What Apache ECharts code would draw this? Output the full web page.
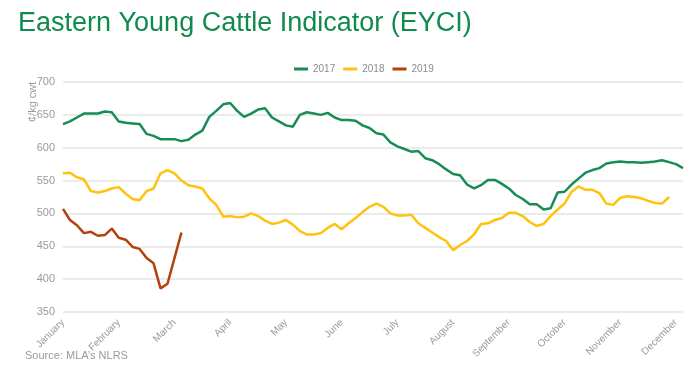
<!DOCTYPE html>
<html><head><meta charset="utf-8">
<script src="https://cdn.jsdelivr.net/npm/echarts@6/dist/echarts.min.js"></script>
<style>html,body{margin:0;padding:0;background:#fff}#c{width:700px;height:378px}</style>
</head><body><div id="c"></div>
<script>
const monthLabels = ['January','February','March','April','May','June','July','August','September','October','November','December'];
const pointsPerLabel = 8;
const yTicks = [350,400,450,500,550,600,650,700];
const seriesNames = ['2017','2018','2019'];
const values2017 = [636,640,646,652,652,652,655,654,640,638,637,636,621,618,613,613,613,610,612,620,626,647,656,666,668,656,647,652,658,660,646,640,634,632,650,654,652,650,653,646,642,642,641,634,630,622,620,608,602,598,594,595,584,581,575,567,560,558,544,538,543,551,551,545,538,528,522,514,514,506,508,532,533,544,553,562,566,569,576,578,579,578,578,577,578,579,581,578,575,569];
const values2018 = [561,562,555,552,534,532,534,538,540,530,522,520,534,538,561,566,561,550,543,541,538,523,513,495,496,494,495,500,496,489,484,486,490,483,473,468,468,470,478,484,476,485,493,502,510,515,510,500,497,497,498,485,478,471,464,458,444,452,458,468,484,485,490,493,501,501,496,487,481,484,496,506,515,533,541,536,536,531,515,513,524,526,525,523,519,516,515,525];
const values2019 = [507,490,482,470,472,466,467,477,463,460,449,446,432,424,386,393,432,471];

const categories = values2017.map((v,i)=>String(i));
const colors = ['#178d55','#ffc20e','#b3410e'];

const chart = echarts.init(document.getElementById('c'), null, {renderer:'canvas'});
chart.setOption({
  animation:false,
  title:{text:'Eastern Young Cattle Indicator (EYCI)', left:13, top:5,
    textStyle:{fontFamily:'Liberation Sans', fontSize:27, fontWeight:'normal', color:'#118a50'}},
  legend:{top:59, left:289, icon:'rect', itemWidth:14, itemHeight:3, itemGap:8,
    textStyle:{color:'#8c8c8c', fontSize:10, fontFamily:'Liberation Sans'},
    data:seriesNames},
  grid:{left:63, right:17, top:82, bottom:66, containLabel:false},
  xAxis:{type:'category', data:categories, boundaryGap:false,
    axisLine:{show:false}, axisTick:{show:false},
    axisLabel:{rotate:45, color:'#9a9a9a', fontSize:10, fontFamily:'Liberation Sans', margin:9,
      interval:(i)=> i % pointsPerLabel === 0,
      formatter:(v,i)=> monthLabels[Math.round(i/pointsPerLabel)] || ''},
    splitLine:{show:false}},
  yAxis:{type:'value', min:yTicks[0], max:yTicks[yTicks.length-1], interval:50,
    axisLine:{show:false}, axisTick:{show:false},
    axisLabel:{color:'#9a9a9a', fontSize:11, fontFamily:'Liberation Sans', margin:8},
    splitLine:{lineStyle:{color:'#e4e4e4', width:1.5}}},
  graphic:[
    {type:'text', rotation:Math.PI/2, x:27, y:122,
      style:{text:'¢/kg cwt', fill:'#9a9a9a', fontSize:11, fontFamily:'Liberation Sans'}},
    {type:'text', left:25, top:350, style:{text:'Source: MLA’s NLRS', fill:'#9a9a9a', fontSize:11, fontFamily:'Liberation Sans Narrow, Liberation Sans'}}
  ],
  series:[
    {name:seriesNames[0], type:'line', data:values2017, showSymbol:false, lineStyle:{width:2.5, color:colors[0]}, itemStyle:{color:colors[0]}},
    {name:seriesNames[1], type:'line', data:values2018, showSymbol:false, lineStyle:{width:2.5, color:colors[1]}, itemStyle:{color:colors[1]}},
    {name:seriesNames[2], type:'line', data:values2019, showSymbol:false, lineStyle:{width:2.5, color:colors[2]}, itemStyle:{color:colors[2]}}
  ]
});
</script></body></html>
